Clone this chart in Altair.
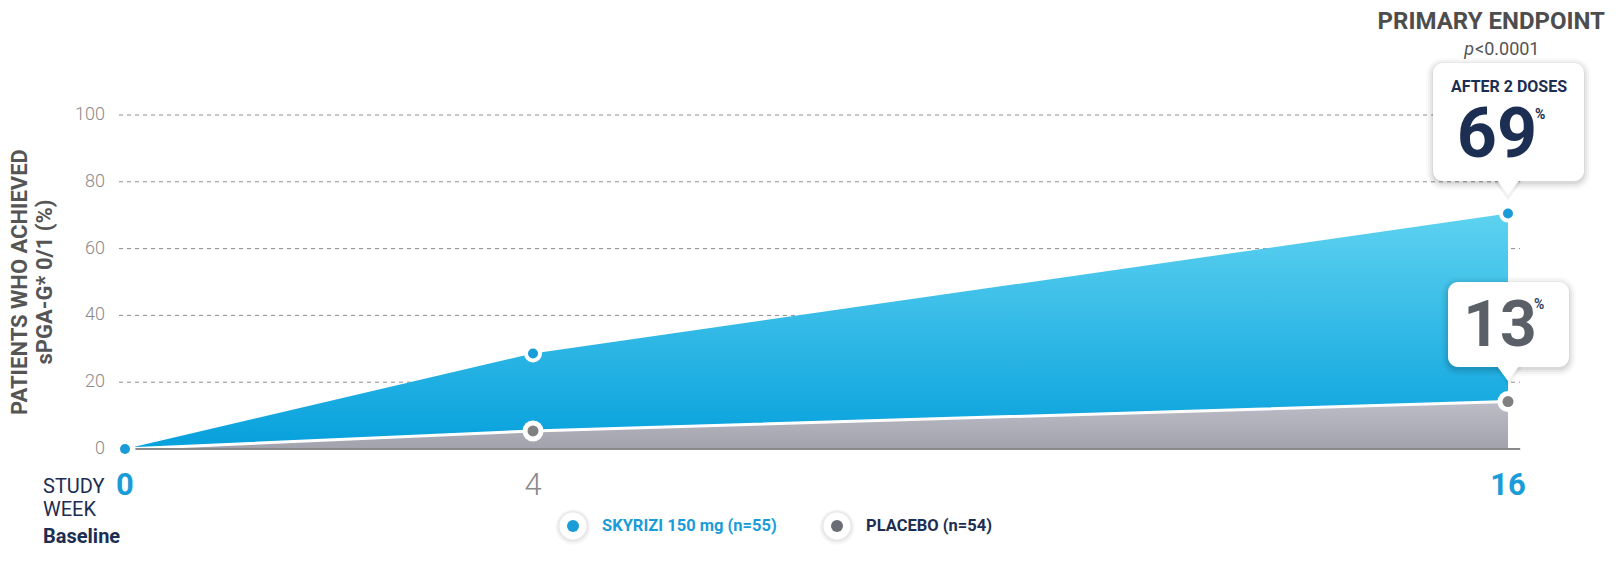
import altair as alt
import pandas as pd

# ---- data ----
weeks = [0, 4, 16]
skyrizi = [0, 28.6, 70.5]
placebo = [0, 5.4, 14.2]
y_ticks = [0, 20, 40, 60, 80, 100]
x_ticks = [0, 4, 16]
skyrizi_label = "SKYRIZI 150 mg (n=55)"
placebo_label = "PLACEBO (n=54)"
skyrizi_callout = "69"
placebo_callout = "13"
y_title = ["PATIENTS WHO ACHIEVED", "sPGA-G* 0/1 (%)"]

df = pd.DataFrame({"week": weeks, "skyrizi": skyrizi, "placebo": placebo})
ydf = pd.DataFrame({"tick": y_ticks})
xdf = pd.DataFrame({"week": x_ticks})

FONT = "Roboto"
BLUE = "#1a9cd8"
NAVY = "#1c2e52"
GRAY_TXT = "#8a8a8a"
DARK = "#4d4d4d"

xscale = alt.Scale(domain=[0, 4, 16], range=[6, 414, 1389])
yscale = alt.Scale(domain=[0, 100], nice=False, zero=True)

X = lambda f: alt.X(f, scale=xscale, axis=None)
Y = lambda f: alt.Y(f, scale=yscale, axis=None)

base = alt.Chart(df)

sky_grad = {"gradient": "linear", "x1": 0, "x2": 0, "y1": 0, "y2": 1,
            "stops": [{"offset": 0, "color": "#5ed2f0"}, {"offset": 1, "color": "#06a0dc"}]}
pla_grad = {"gradient": "linear", "x1": 0, "x2": 0, "y1": 0, "y2": 1,
            "stops": [{"offset": 0, "color": "#bdbdc8"}, {"offset": 1, "color": "#a2a2ad"}]}

# gridlines and axis labels drawn through the y / x scales
grid = alt.Chart(ydf).mark_rule(color="#8c8c8c", strokeWidth=1, strokeDash=[4, 4]).encode(
    y=Y("tick:Q"), x=alt.value(0), x2=alt.value(1401))
ylabels = alt.Chart(ydf).mark_text(
    font=FONT, fontSize=18, fontWeight=300, color=GRAY_TXT, align="right", baseline="middle"
).encode(y=Y("tick:Q"), x=alt.value(-14), text="tick:Q")
xlab_bold = alt.Chart(xdf).transform_filter("datum.week != 4").mark_text(
    font=FONT, fontSize=31, fontWeight="bold", color=BLUE, align="center", baseline="alphabetic"
).encode(x=X("week:Q"), y=alt.value(380), text="week:Q")
xlab_light = alt.Chart(xdf).transform_filter("datum.week == 4").mark_text(
    font=FONT, fontSize=31, fontWeight=300, color=GRAY_TXT, align="center", baseline="alphabetic"
).encode(x=X("week:Q"), y=alt.value(380), text="week:Q")

one = pd.DataFrame({"k": [0]})
ytitle = alt.Chart(one).mark_text(
    text=y_title, font=FONT, fontSize=22, fontWeight="bold", color="#555555",
    angle=270, align="center", baseline="alphabetic", lineHeight=25
).encode(x=alt.value(-92), y=alt.value(167))

sky_area = base.mark_area(color=sky_grad).encode(x=X("week:Q"), y=Y("skyrizi:Q"))
pla_area = base.mark_area(color=pla_grad).encode(x=X("week:Q"), y=Y("placebo:Q"))
pla_line = base.mark_line(color="white", strokeWidth=3).encode(x=X("week:Q"), y=Y("placebo:Q"))

baseline_rule = alt.Chart(one).mark_rule(color="#8a8a8a", strokeWidth=2).encode(
    x=alt.XDatum(0, scale=xscale, axis=None), x2=alt.X2Datum(16.15),
    y=alt.YDatum(0, scale=yscale, axis=None))

pla_ring = base.mark_circle(color="white", opacity=1, size=441).encode(x=X("week:Q"), y=Y("placebo:Q"))
pla_dot = base.mark_circle(color="#808080", opacity=1, size=121).encode(x=X("week:Q"), y=Y("placebo:Q"))
sky_ring = base.mark_circle(color="white", opacity=1, size=324).encode(x=X("week:Q"), y=Y("skyrizi:Q"))
sky_dot = base.mark_circle(color=BLUE, opacity=1, size=100).encode(x=X("week:Q"), y=Y("skyrizi:Q"))


def txt(text, x, y, size, color, weight="normal", align="left", style="normal", baseline="alphabetic"):
    return alt.Chart(one).mark_text(
        text=text, font=FONT, fontSize=size, color=color, fontWeight=weight,
        align=align, fontStyle=style, baseline=baseline).encode(
        x=alt.value(x), y=alt.value(y))


X16 = alt.XDatum(16, scale=xscale, axis=None)
X216 = alt.X2Datum(16)
TRI = "M-1,-0.1L1,-0.1L0,1.25Z"


def callout(top, bottom, left, right):
    layers = []
    for i, op in [(7, 0.02), (5, 0.03), (3, 0.045), (1, 0.06)]:
        layers.append(alt.Chart(one).mark_rect(
            color="black", opacity=op, cornerRadius=10 + i,
            xOffset=left - i, x2Offset=right + i, yOffset=-i + 2, y2Offset=i + 2).encode(
            x=X16, x2=X216, y=alt.value(top), y2=alt.value(bottom)))
    layers.append(alt.Chart(one).mark_point(
        shape=TRI, filled=True, color="black", opacity=0.05, size=841).encode(
        x=X16, y=alt.value(bottom + 1)))
    layers.append(alt.Chart(one).mark_rect(
        color="white", cornerRadius=10, xOffset=left, x2Offset=right).encode(
        x=X16, x2=X216, y=alt.value(top), y2=alt.value(bottom)))
    layers.append(alt.Chart(one).mark_point(
        shape=TRI, filled=True, color="white", opacity=1, size=576, strokeWidth=0).encode(
        x=X16, y=alt.value(bottom - 1)))
    return layers


c1 = callout(-52, 66, -75, 76)
c2 = callout(167, 252, -60, 61)


def ctext(text, dx, y, size, color, weight="bold", align="center"):
    return alt.Chart(one).mark_text(
        text=text, font=FONT, fontSize=size, color=color, fontWeight=weight,
        align=align, baseline="alphabetic", dx=dx).encode(x=X16, y=alt.value(y))


texts = [
    txt("PRIMARY ENDPOINT", 1486, -86, 24, DARK, weight="bold", align="right"),
    txt("p", 1355, -60, 18, "#555555", align="right", style="italic"),
    txt("<0.0001", 1356, -60, 18, "#555555"),
    ctext("AFTER 2 DOSES", 1, -23, 16, NAVY),
    ctext(skyrizi_callout, -11, 42, 70, NAVY),
    ctext("%", 27, 4, 14, NAVY, align="left"),
    ctext(placebo_callout, -8, 231, 64, "#5b6068"),
    ctext("%", 26, 194, 14, "#3a4560", align="left"),
    txt("STUDY", -76, 378, 20, NAVY),
    txt("WEEK", -76, 401, 20, NAVY),
    txt("Baseline", -76, 428, 20, NAVY, weight="bold"),
]


def legend_item(x, color, label, label_color):
    return [
        alt.Chart(one).mark_circle(color="black", opacity=0.04, size=1225).encode(
            x=alt.value(x), y=alt.value(412)),
        alt.Chart(one).mark_circle(color="black", opacity=0.05, size=961).encode(
            x=alt.value(x), y=alt.value(411.5)),
        alt.Chart(one).mark_circle(color="white", opacity=1, size=729).encode(
            x=alt.value(x), y=alt.value(411)),
        alt.Chart(one).mark_circle(color=color, opacity=1, size=144).encode(
            x=alt.value(x), y=alt.value(411)),
        txt(label, x + 29, 411, 16.5, label_color, weight="bold", baseline="middle"),
    ]


legend = legend_item(454, BLUE, skyrizi_label, BLUE) + legend_item(718, "#6a6d75", placebo_label, NAVY)

chart = alt.layer(
    grid, ylabels, ytitle, xlab_bold, xlab_light,
    sky_area, pla_area, pla_line, baseline_rule,
    pla_ring, pla_dot, sky_ring, sky_dot,
    *c1, *c2, *texts, *legend
).properties(
    width=1401, height=334,
    padding={"left": 111, "top": 107, "right": 90, "bottom": 105},
    autosize=alt.AutoSizeParams(type="none"),
    background="white",
).configure_view(stroke=None)

chart.save("out.html", embed_options={"renderer": "svg", "actions": False})
